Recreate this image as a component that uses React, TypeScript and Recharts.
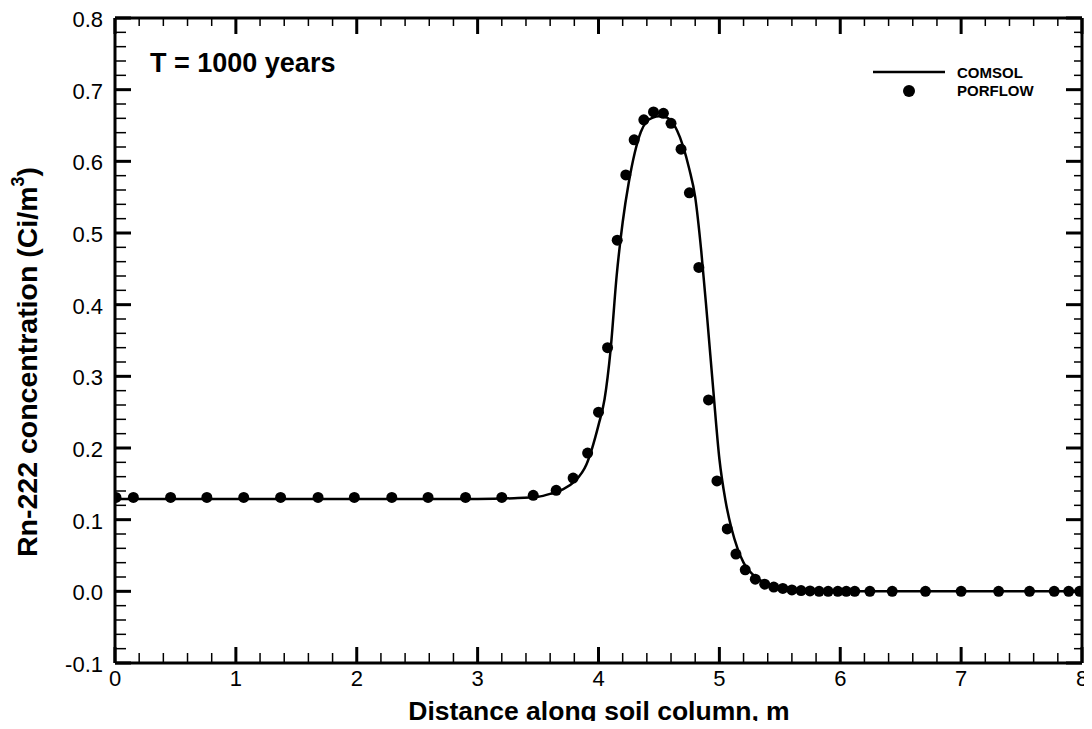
import React from 'react';
import { ComposedChart, Line, Scatter, XAxis, YAxis, Legend } from 'recharts';

// COMSOL curve (distance m, concentration Ci/m3)
const comsolX = [0, 1, 2, 3, 3.3, 3.5, 3.6, 3.7, 3.8, 3.9, 4.0, 4.05, 4.1, 4.15, 4.2, 4.25, 4.3, 4.35, 4.4, 4.45, 4.5, 4.55, 4.6, 4.65, 4.7, 4.75, 4.8, 4.85, 4.9, 4.95, 5.0, 5.05, 5.1, 5.15, 5.2, 5.3, 5.4, 5.5, 5.6, 5.8, 6.0, 7.0, 8.0];
const comsolY = [0.129, 0.129, 0.129, 0.129, 0.130, 0.132, 0.136, 0.142, 0.153, 0.177, 0.232, 0.268, 0.337, 0.44, 0.515, 0.57, 0.612, 0.641, 0.656, 0.661, 0.663, 0.662, 0.657, 0.643, 0.621, 0.59, 0.55, 0.475, 0.38, 0.28, 0.185, 0.127, 0.088, 0.06, 0.04, 0.02, 0.01, 0.005, 0.002, 0.0005, 0, 0, 0];

// PORFLOW points
const porflowX = [0.008, 0.152, 0.46, 0.76, 1.065, 1.37, 1.68, 1.98, 2.29, 2.59, 2.9, 3.2, 3.46, 3.65, 3.79, 3.91, 4.0, 4.075, 4.155, 4.226, 4.295, 4.375, 4.455, 4.537, 4.6, 4.683, 4.752, 4.83, 4.91, 4.98, 5.065, 5.137, 5.214, 5.297, 5.375, 5.45, 5.525, 5.6, 5.676, 5.75, 5.825, 5.9, 5.98, 6.05, 6.12, 6.245, 6.43, 6.705, 7.0, 7.31, 7.566, 7.77, 7.89, 7.98];
const porflowY = [0.131, 0.131, 0.131, 0.131, 0.131, 0.131, 0.131, 0.131, 0.131, 0.131, 0.131, 0.131, 0.134, 0.141, 0.158, 0.193, 0.25, 0.34, 0.49, 0.581, 0.63, 0.658, 0.669, 0.667, 0.653, 0.617, 0.556, 0.452, 0.267, 0.154, 0.087, 0.052, 0.03, 0.017, 0.01, 0.006, 0.004, 0.002, 0.001, 0.0005, 0, 0, 0, 0, 0, 0, 0, 0, 0, 0, 0, 0, 0, 0];

const xTicks = Array.from({ length: 41 }, (_, i) => Math.round(i * 2) / 10);
const yTicks = Array.from({ length: 46 }, (_, i) => Math.round(-10 + i * 2) / 100);

const comsol = comsolX.map((x, i) => ({ x, y: comsolY[i] }));
const porflow = porflowX.map((x, i) => ({ x, y: porflowY[i] }));

const FONT = 'Arial, "Liberation Sans", Helvetica, sans-serif';
const isMajorX = (v: number) => Math.abs(v - Math.round(v)) < 1e-6;
const isMajorY = (v: number) => Math.abs(v * 10 - Math.round(v * 10)) < 1e-6;

const BottomTick = (p: any) => {
  const v = p.payload.value;
  const major = isMajorX(v);
  return (
    <g>
      <line x1={p.x} x2={p.x} y1={p.y} y2={p.y - (major ? 16 : 10)} stroke="#000" strokeWidth={major ? 3 : 1.5} />
      {major && (
        <text x={p.x} y={p.y + 23} textAnchor="middle" fontSize={22} fontFamily={FONT} fill="#000">{String(Math.round(v))}</text>
      )}
    </g>
  );
};
const TopTick = (p: any) => {
  const major = isMajorX(p.payload.value);
  return <line x1={p.x} x2={p.x} y1={p.y} y2={p.y + (major ? 16 : 8)} stroke="#000" strokeWidth={major ? 3 : 1.5} />;
};
const LeftTick = (p: any) => {
  const v = p.payload.value;
  const major = isMajorY(v);
  return (
    <g>
      <line x1={p.x} x2={p.x + (major ? 16 : 11)} y1={p.y} y2={p.y} stroke="#000" strokeWidth={major ? 3 : 1.5} />
      {major && (
        <text x={p.x - 12} y={p.y + 9} textAnchor="end" fontSize={22} fontFamily={FONT} fill="#000">{v.toFixed(1)}</text>
      )}
    </g>
  );
};
const RightTick = (p: any) => {
  const major = isMajorY(p.payload.value);
  return <line x1={p.x} x2={p.x - (major ? 16 : 8)} y1={p.y} y2={p.y} stroke="#000" strokeWidth={major ? 3 : 1.5} />;
};

const Dot = (p: any) => <circle cx={p.cx} cy={p.cy} r={5.5} fill="#000" />;

const LegendBox = () => (
  <svg width={200} height={50} style={{ display: 'block' }}>
    <line x1={5} x2={77} y1={14} y2={14} stroke="#000" strokeWidth={2.5} />
    <text x={89} y={20} fontSize={15} fontWeight="bold" fontFamily={FONT} fill="#000">COMSOL</text>
    <circle cx={41} cy={33} r={6} fill="#000" />
    <text x={89} y={38} fontSize={15} fontWeight="bold" fontFamily={FONT} fill="#000">PORFLOW</text>
  </svg>
);

const axisLine = { stroke: '#000', strokeWidth: 3 };

export default function App() {
  return (
    <div style={{ margin: -8, position: 'relative', width: 1092, height: 729, fontFamily: FONT, background: '#fff', overflow: 'hidden' }}>
      <ComposedChart width={1092} height={729} margin={{ top: 17, right: 9, left: 0, bottom: 0 }}>
        <XAxis xAxisId="b" dataKey="x" type="number" domain={[0, 8]} ticks={xTicks} interval={0} orientation="bottom" height={66}
          tickSize={0} tickMargin={0} tickLine={false} axisLine={axisLine} tick={<BottomTick />} allowDataOverflow />
        <XAxis xAxisId="t" dataKey="x" type="number" domain={[0, 8]} ticks={xTicks} interval={0} orientation="top" height={1}
          tickSize={0} tickMargin={0} tickLine={false} axisLine={axisLine} tick={<TopTick />} allowDataOverflow />
        <YAxis yAxisId="l" type="number" domain={[-0.1, 0.8]} ticks={yTicks} interval={0} orientation="left" width={115}
          tickSize={0} tickMargin={0} tickLine={false} axisLine={axisLine} tick={<LeftTick />} allowDataOverflow />
        <YAxis yAxisId="r" type="number" domain={[-0.1, 0.8]} ticks={yTicks} interval={0} orientation="right" width={1}
          tickSize={0} tickMargin={0} tickLine={false} axisLine={axisLine} tick={<RightTick />} allowDataOverflow />
        <Line xAxisId="b" yAxisId="l" data={comsol} dataKey="y" type="monotone" stroke="#000" strokeWidth={2.5}
          dot={false} activeDot={false} isAnimationActive={false} name="COMSOL" />
        <Scatter xAxisId="b" yAxisId="l" data={porflow} dataKey="y" fill="#000" shape={<Dot />} isAnimationActive={false} name="PORFLOW" />
        <Legend layout="horizontal" verticalAlign="middle" align="center" content={<LegendBox />}
          wrapperStyle={{ position: 'absolute', left: 868, top: 58, width: 200, height: 50 }} />
      </ComposedChart>
      <svg width={1092} height={729} style={{ position: 'absolute', left: 0, top: 0, pointerEvents: 'none' }}>
        <text x={150} y={72} fontSize={27} fontWeight="bold" fontFamily={FONT} fill="#000">T = 1000 years</text>
        <text x={599} y={720} fontSize={26.5} fontWeight="bold" fontFamily={FONT} fill="#000" textAnchor="middle">Distance along soil column, m</text>
        <text transform="translate(37, 362) rotate(-90)" fontSize={28.5} fontWeight="bold" fontFamily={FONT} fill="#000" textAnchor="middle">
          Rn-222 concentration (Ci/m<tspan fontSize={18} dy={-13}>3</tspan><tspan dy={13}>)</tspan>
        </text>
      </svg>
    </div>
  );
}
